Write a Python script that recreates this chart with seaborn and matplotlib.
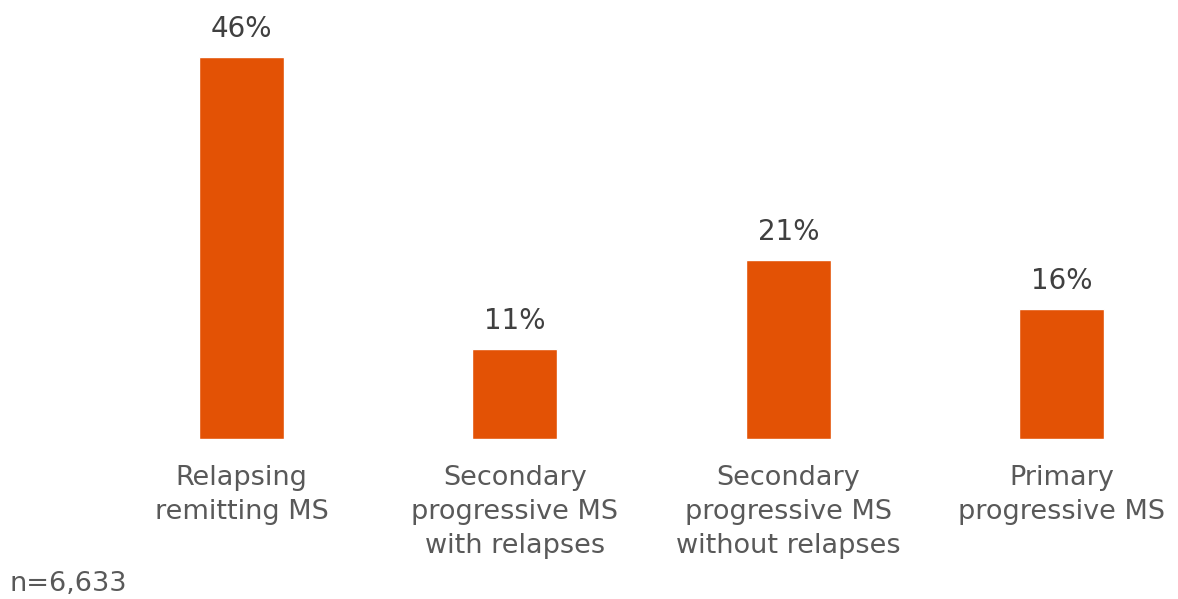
import matplotlib
matplotlib.use("Agg")
import matplotlib.pyplot as plt
import pandas as pd
import seaborn as sns

# MS type distribution
categories = [
    "Relapsing\nremitting MS",
    "Secondary\nprogressive MS\nwith relapses",
    "Secondary\nprogressive MS\nwithout relapses",
    "Primary\nprogressive MS",
]
shares = [46.0, 10.8, 21.6, 15.7]
share_labels = ["46%", "11%", "21%", "16%"]
note = "n=6,633"

df = pd.DataFrame({"type": categories, "share": shares})

sns.set_theme(style="white")
plt.rcParams["font.family"] = ["DejaVu Sans"]

fig = plt.figure(figsize=(11.78, 5.99), dpi=100)
ax = fig.add_axes([105 / 1178, 160 / 599, (1178 - 105) / 1178, 382 / 599])

sns.barplot(data=df, x="type", y="share", color="#E35205", saturation=1,
            width=0.311, ax=ax)

ax.set_xlim(-0.5, 3.426)
ax.set_ylim(0, 46)
for spine in ax.spines.values():
    spine.set_visible(False)
ax.set_yticks([])
ax.set_xlabel("")
ax.set_ylabel("")
ax.tick_params(axis="x", length=0, pad=19, labelsize=19.5, labelcolor="#595959")
for lbl in ax.get_xticklabels():
    lbl.set_linespacing(1.4)

for i, (v, t) in enumerate(zip(shares, share_labels)):
    ax.annotate(t, (i, v), xytext=(0, 10), textcoords="offset points",
                ha="center", va="bottom", fontsize=20, color="#404040",
                annotation_clip=False)

fig.text(10 / 1178, 1 - 584 / 599, note, fontsize=19.5, color="#595959",
         ha="left", va="center")

fig.savefig("out.png", dpi=100)
